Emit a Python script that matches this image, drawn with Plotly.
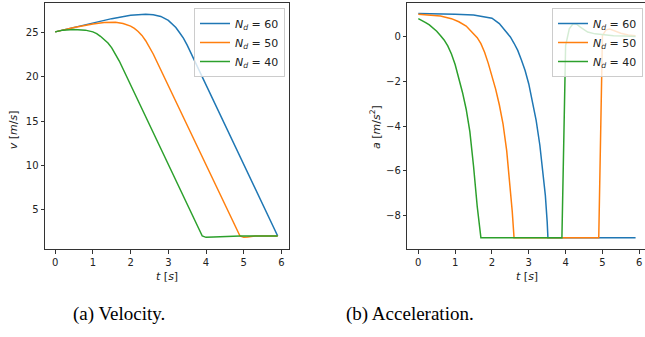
import plotly.graph_objects as go

# ---------------- data ----------------
labels = ["<i>N</i><sub><i>d</i></sub> = 60", "<i>N</i><sub><i>d</i></sub> = 50", "<i>N</i><sub><i>d</i></sub> = 40"]
colors = ["#1f77b4", "#ff7f0e", "#2ca02c"]

# velocity
t_v60 = [0, 0.5, 1.0, 1.5, 2.0, 2.2, 2.4, 2.6, 2.8, 3.0, 3.1, 3.2, 3.3, 3.4, 3.5, 3.6, 5.9]
v_60 = [25.1, 25.6, 26.15, 26.6, 26.97, 27.07, 27.1, 27.05, 26.85, 26.4, 26.05, 25.6, 25.0, 24.4, 23.6, 22.7, 2.0]

t_v50 = [0, 0.5, 1.0, 1.3, 1.6, 1.8, 2.0, 2.1, 2.2, 2.3, 2.4, 2.5, 2.6, 4.9, 5.0, 5.1, 5.2, 5.3, 5.9]
v_50 = [25.1, 25.6, 26.0, 26.15, 26.18, 26.05, 25.75, 25.5, 25.15, 24.7, 24.1, 23.4, 22.6, 2.0, 1.85, 1.88, 1.95, 1.99, 2.0]

t_v40 = [0, 0.2, 0.5, 0.8, 1.0, 1.1, 1.2, 1.3, 1.4, 1.5, 1.6, 1.7, 3.9, 4.0, 4.2, 4.5, 4.9, 5.9]
v_40 = [25.1, 25.3, 25.38, 25.3, 25.1, 24.9, 24.6, 24.25, 23.85, 23.3, 22.6, 21.8, 2.0, 1.85, 1.9, 1.95, 2.0, 2.0]

# acceleration
t_a60 = [0, 0.5, 1.0, 1.5, 1.8, 2.0, 2.2, 2.4, 2.5, 2.6, 2.7, 2.8, 2.9, 3.0, 3.1, 3.2, 3.3, 3.4, 3.45, 3.5, 3.52, 5.9]
a_60 = [1.03, 1.02, 1.0, 0.96, 0.88, 0.82, 0.58, 0.2, -0.02, -0.3, -0.62, -1.05, -1.52, -2.12, -2.9, -3.75, -4.85, -6.2, -7.1, -8.3, -9.0, -9.0]

t_a50 = [0, 0.3, 0.6, 0.9, 1.1, 1.3, 1.5, 1.6, 1.7, 1.8, 1.9, 2.0, 2.1, 2.2, 2.3, 2.4, 2.5, 2.55, 2.6, 4.9, 5.0, 5.1, 5.2, 5.3, 5.4, 5.5, 5.7, 5.9]
a_50 = [1.0, 0.97, 0.92, 0.8, 0.66, 0.47, 0.15, -0.05, -0.32, -0.7, -1.2, -1.75, -2.35, -3.05, -3.9, -5.1, -6.7, -7.8, -9.0, -9.0, 0.05, 0.3, 0.34, 0.28, 0.2, 0.15, 0.07, 0.04]

t_a40 = [0, 0.1, 0.2, 0.3, 0.4, 0.5, 0.6, 0.7, 0.8, 0.9, 1.0, 1.1, 1.2, 1.3, 1.4, 1.5, 1.6, 1.7, 3.9, 4.0, 4.1, 4.2, 4.3, 4.4, 4.5, 4.6, 4.8, 5.0, 5.3, 5.6, 5.9]
a_40 = [0.8, 0.72, 0.62, 0.52, 0.4, 0.24, 0.05, -0.15, -0.42, -0.78, -1.25, -1.85, -2.5, -3.25, -4.25, -5.8, -7.6, -9.0, -9.0, -0.4, 0.35, 0.57, 0.55, 0.42, 0.3, 0.2, 0.12, 0.08, 0.04, 0.02, 0.0]

x_ticks = [0, 1, 2, 3, 4, 5, 6]
v_ticks = [5, 10, 15, 20, 25]
a_ticks = [-8, -6, -4, -2, 0]
a_tick_text = ["\u22128", "\u22126", "\u22124", "\u22122", "0"]

# ---------------- figure ----------------
W, H = 645, 337
fig = go.Figure()

vel = [(t_v60, v_60), (t_v50, v_50), (t_v40, v_40)]
acc = [(t_a60, a_60), (t_a50, a_50), (t_a40, a_40)]

for (tt, vv), lab, c in zip(vel, labels, colors):
    fig.add_trace(go.Scatter(x=tt, y=vv, mode="lines", name=lab,
                             line=dict(color=c, width=1.5),
                             xaxis="x", yaxis="y", legend="legend"))
for (tt, aa), lab, c in zip(acc, labels, colors):
    fig.add_trace(go.Scatter(x=tt, y=aa, mode="lines", name=lab,
                             line=dict(color=c, width=1.5),
                             xaxis="x2", yaxis="y2", legend="legend2"))

axis_common = dict(showgrid=False, zeroline=False, showline=True, linecolor="#333",
                   linewidth=1, ticks="outside", ticklen=3.5, tickwidth=1, tickcolor="#333",
                   tickfont=dict(family="DejaVu Sans", size=10, color="#222"))

top_px, bot_px = 3, 249
ydom = [1 - bot_px / H, 1 - top_px / H]

fig.update_layout(
    width=W, height=H,
    margin=dict(l=0, r=0, t=0, b=0),
    paper_bgcolor="white", plot_bgcolor="white",
    hovermode=False,
    xaxis=dict(domain=[45 / W, 289 / W], range=[-0.27, 6.2], tickmode="array",
               tickvals=x_ticks, mirror=True, anchor="y", **axis_common),
    yaxis=dict(domain=ydom, range=[0.53, 28.37], tickmode="array",
               tickvals=v_ticks, mirror=True, anchor="x", **axis_common),
    xaxis2=dict(domain=[407.3 / W, 1.0], range=[-0.299, 6.156], tickmode="array",
                tickvals=x_ticks, mirror=True, anchor="y2", **axis_common),
    yaxis2=dict(domain=ydom, range=[-9.5, 1.5], tickmode="array",
                tickvals=a_ticks, ticktext=a_tick_text, mirror=False, anchor="x2", **axis_common),
    legend=dict(x=285 / W, y=1 - 8 / H, xanchor="right", yanchor="top",
                bgcolor="rgba(255,255,255,0.8)", bordercolor="#cccccc", borderwidth=1,
                font=dict(family="DejaVu Sans", size=11, color="#222"), tracegroupgap=0),
    legend2=dict(x=643 / W, y=1 - 8 / H, xanchor="right", yanchor="top",
                 bgcolor="rgba(255,255,255,0.8)", bordercolor="#cccccc", borderwidth=1,
                 font=dict(family="DejaVu Sans", size=11, color="#222"), tracegroupgap=0),
    showlegend=True,
)

label_font = dict(family="DejaVu Sans", size=11, color="#222")
annots = [
    dict(text="<i>t</i> [<i>s</i>]", x=167 / W, y=1 - 276.7 / H),
    dict(text="<i>t</i> [<i>s</i>]", x=526.7 / W, y=1 - 276.7 / H),
    dict(text="<i>v</i> [<i>m</i>/<i>s</i>]", x=13.3 / W, y=1 - 130 / H, textangle=-90),
    dict(text="<i>a</i> [<i>m</i>/<i>s</i><sup>2</sup>]", x=375 / W, y=1 - 127 / H, textangle=-90),
]
for a in annots:
    fig.add_annotation(xref="paper", yref="paper", showarrow=False,
                       xanchor="center", yanchor="middle", font=label_font, **a)

cap_font = dict(family="Liberation Serif", size=19, color="black")
fig.add_annotation(text="(a) Velocity.", x=119.2 / W, y=1 - 313.5 / H, xref="paper", yref="paper",
                   showarrow=False, xanchor="center", yanchor="middle", font=cap_font)
fig.add_annotation(text="(b) Acceleration.", x=410 / W, y=1 - 313.5 / H, xref="paper", yref="paper",
                   showarrow=False, xanchor="center", yanchor="middle", font=cap_font)

fig.write_html("out.html",
               config={"displayModeBar": False, "staticPlot": True},
               post_script="document.body.style.margin='0';document.body.style.padding='0';"
                           "document.body.style.overflow='hidden';")
